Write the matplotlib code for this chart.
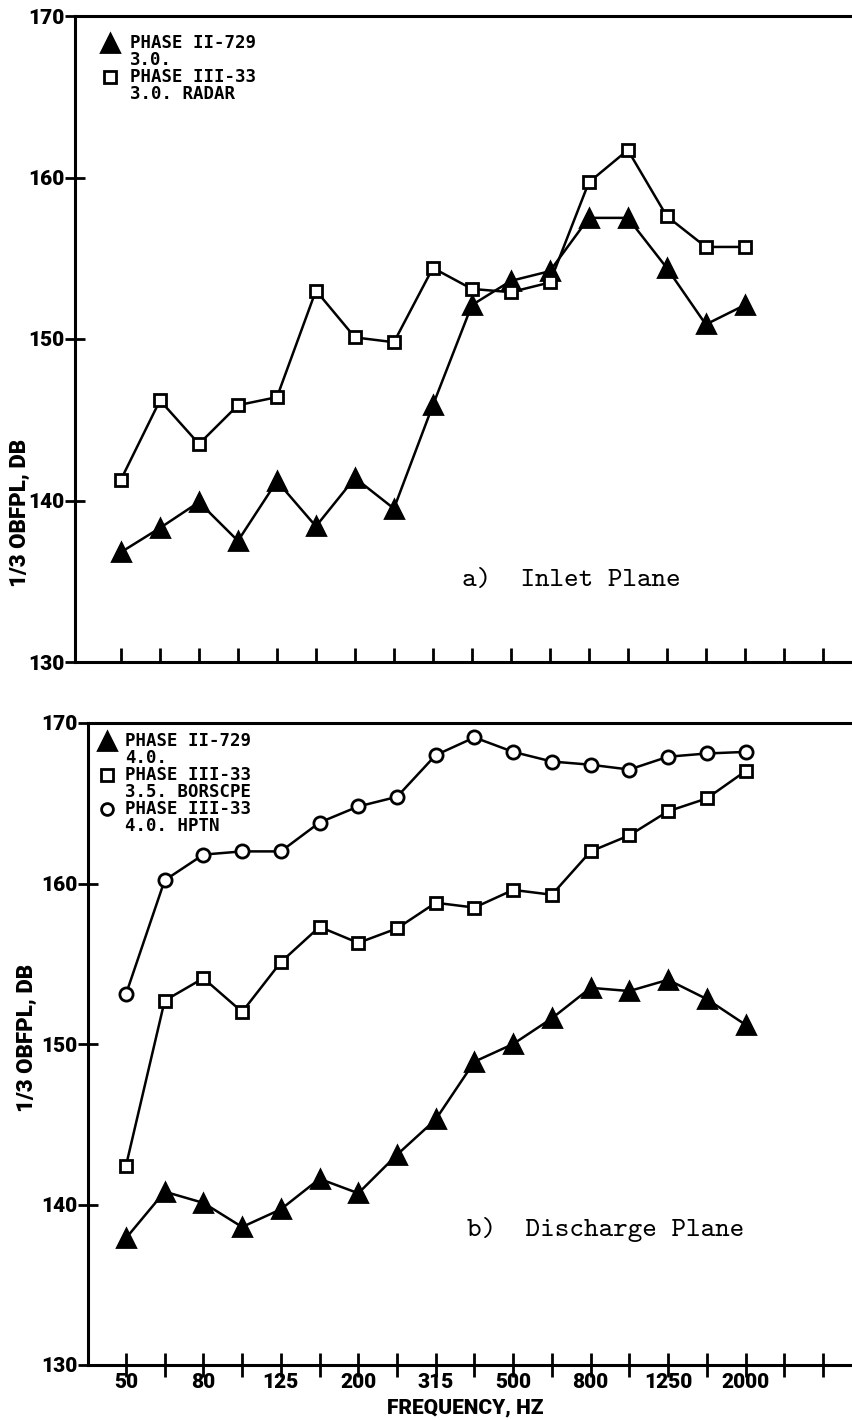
import matplotlib.pyplot as plt
from matplotlib.lines import Line2D

# 1/3-octave band centres (Hz); only every other one gets a label
bands = ["50", "63", "80", "100", "125", "160", "200", "250", "315", "400",
         "500", "630", "800", "1000", "1250", "1600", "2000", "2500", "3150"]
n_pts = 17  # 50 .. 2000 Hz carry data

# a) inlet plane, dB
inlet_ii723 = [136.8, 138.3, 139.9, 137.5, 141.2, 138.4, 141.4, 139.5, 145.9,
               152.1, 153.6, 154.2, 157.5, 157.5, 154.4, 150.9, 152.1]
inlet_iii33 = [141.3, 146.2, 143.5, 145.9, 146.4, 153.0, 150.1, 149.8, 154.4,
               153.1, 152.9, 153.5, 159.7, 161.7, 157.6, 155.7, 155.7]

# b) discharge plane, dB
disch_ii723 = [137.9, 140.8, 140.1, 138.6, 139.7, 141.6, 140.7, 143.1, 145.3,
               148.9, 150.0, 151.6, 153.5, 153.3, 154.0, 152.8, 151.2]
disch_iii33_bs = [142.4, 152.7, 154.1, 152.0, 155.1, 157.3, 156.3, 157.2, 158.8,
                  158.5, 159.6, 159.3, 162.0, 163.0, 164.5, 165.3, 167.0]
disch_iii33_hptn = [153.1, 160.2, 161.8, 162.0, 162.0, 163.8, 164.8, 165.4, 168.0,
                    169.1, 168.2, 167.6, 167.4, 167.1, 167.9, 168.1, 168.2]

y_ticks = [130, 140, 150, 160, 170]

W, H = 852, 1420
PLOT_FONT = ["Roboto", "DejaVu Sans"]
LEG_FONT = ["DejaVu Sans Mono"]
NOTE_FONT = ["cmtt10", "DejaVu Sans Mono"]

fig = plt.figure(figsize=(W / 100, H / 100), dpi=100)


def fig_xy(x, y):
    # pixel position -> figure fraction
    return x / W, 1 - y / H


def make_axes(left, top, bottom, x0):
    ax = fig.add_axes([left / W, 1 - bottom / H, (W - left) / W, (bottom - top) / H])
    ax.set_xlim(x0, 18.75)
    ax.set_ylim(130, 170)
    ax.spines["right"].set_visible(False)
    for s in ("left", "top", "bottom"):
        ax.spines[s].set_linewidth(2.2)
    ax.set_xticks(range(len(bands)))
    ax.set_yticks(y_ticks)
    ax.set_yticklabels([str(v) for v in y_ticks], fontfamily=PLOT_FONT,
                       fontweight="black", fontsize=15)
    ax.tick_params(axis="y", direction="inout", length=15, width=2, pad=0)
    return ax


def series(ax, vals, marker, ms, filled):
    x = list(range(n_pts))
    ax.plot(x, vals, color="black", lw=1.8, marker=marker, ms=ms,
            mfc="black" if filled else "white", mec="black", mew=2, clip_on=False)


def legend(entries, x_mark, x_text, y0, dy=17):
    for i, (marker, ms, filled, line1, line2) in enumerate(entries):
        y = y0 + i * 2 * dy
        fig.add_artist(Line2D([fig_xy(x_mark, y)[0]], [fig_xy(x_mark, y)[1]],
                              marker=marker, ms=ms, color="black", mew=2,
                              mfc="black" if filled else "white",
                              transform=fig.transFigure))
        for j, txt in enumerate((line1, line2)):
            fig.text(*fig_xy(x_text, y + j * dy), txt, fontfamily=LEG_FONT,
                     fontweight="bold", fontsize=12.5, va="center", ha="left")


# ---- a) Inlet Plane ----
ax1 = make_axes(75, 16, 662, -1.18)
ax1.set_xticklabels([])
ax1.tick_params(axis="x", direction="in", length=10, width=2)
series(ax1, inlet_ii723, "^", 13, True)
series(ax1, inlet_iii33, "s", 9, False)
fig.text(*fig_xy(462, 580), "a)  Inlet Plane", fontfamily=NOTE_FONT,
         fontsize=20, va="center", ha="left")
legend([("^", 13, True, "PHASE II-729", "3.0."),
        ("s", 8, False, "PHASE III-33", "3.0. RADAR")], 110, 130, 43)
fig.text(*fig_xy(20, 513), "1/3 OBFPL, DB", rotation=90, fontfamily=PLOT_FONT,
         fontweight="black", fontsize=16, va="center", ha="center")

# ---- b) Discharge Plane ----
ax2 = make_axes(88, 723, 1365, -0.98)
ax2.set_xticklabels([b if i % 2 == 0 and i < n_pts else "" for i, b in enumerate(bands)],
                    fontfamily=PLOT_FONT, fontweight="black", fontsize=15)
ax2.tick_params(axis="x", direction="inout", length=17, width=2, pad=-3)
series(ax2, disch_ii723, "^", 13, True)
series(ax2, disch_iii33_bs, "s", 9, False)
series(ax2, disch_iii33_hptn, "o", 9.5, False)
fig.text(*fig_xy(467, 1230), "b)  Discharge Plane", fontfamily=NOTE_FONT,
         fontsize=20, va="center", ha="left")
legend([("^", 13, True, "PHASE II-729", "4.0."),
        ("s", 8, False, "PHASE III-33", "3.5. BORSCPE"),
        ("o", 8.5, False, "PHASE III-33", "4.0. HPTN")], 107, 125, 741)
fig.text(*fig_xy(27, 1038), "1/3 OBFPL, DB", rotation=90, fontfamily=PLOT_FONT,
         fontweight="black", fontsize=16, va="center", ha="center")
fig.text(*fig_xy(465, 1408), "FREQUENCY, HZ", fontfamily=PLOT_FONT,
         fontweight="black", fontsize=15, va="center", ha="center")

fig.savefig("out.png", dpi=100)
